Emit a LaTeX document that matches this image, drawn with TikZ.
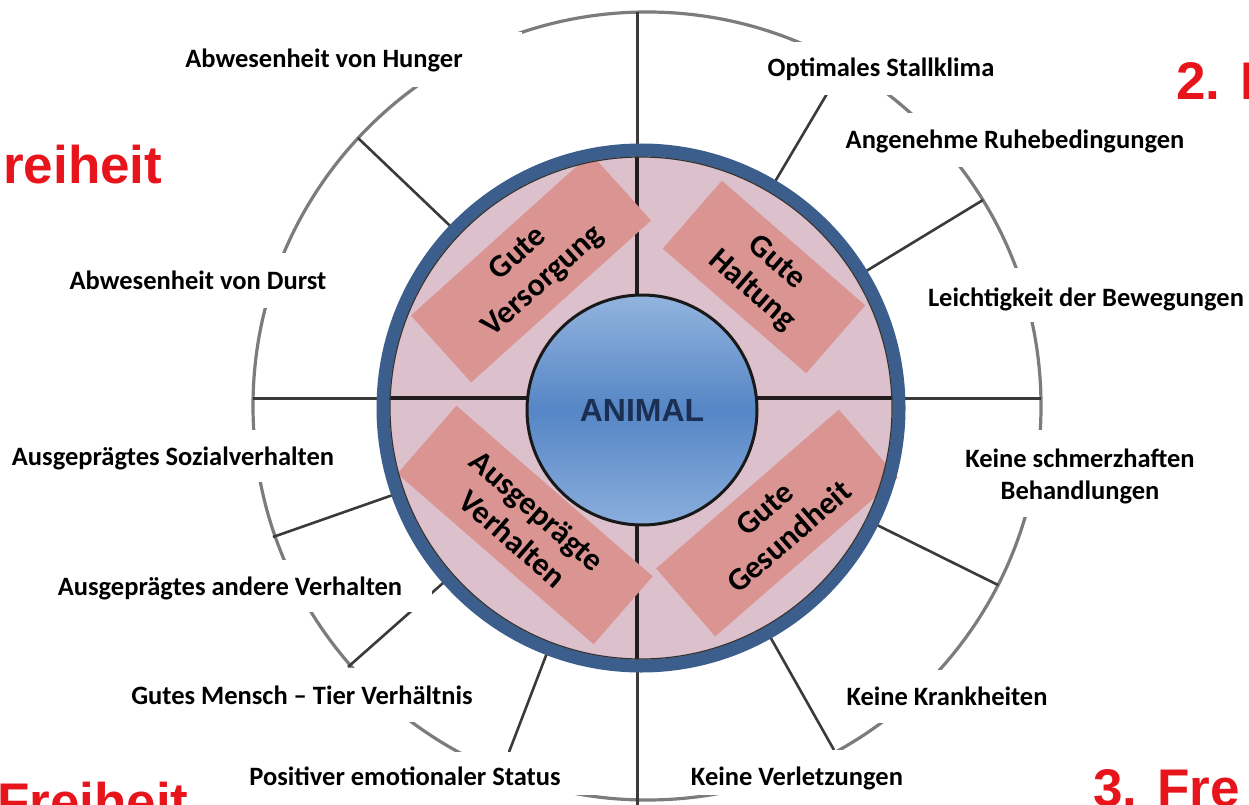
\documentclass[tikz,border=0pt]{standalone}
\usepackage{fontspec}
\setmainfont{Carlito}
\newfontfamily\arialf{Liberation Sans}
\definecolor{ringblue}{HTML}{3B5E8C}
\definecolor{ringfill}{HTML}{DCC0CC}
\definecolor{boxpink}{HTML}{DA9491}
\definecolor{titlered}{HTML}{E8141C}
\definecolor{animaltext}{HTML}{1B2F52}
\definecolor{spokegrey}{HTML}{3A3A3A}
\definecolor{circgrey}{HTML}{7C7C7C}
\definecolor{animaltop}{HTML}{92B4DE}
\definecolor{animalmid}{HTML}{5686C6}
\definecolor{animalbot}{HTML}{8AAEDC}
\begin{document}
\begin{tikzpicture}[x=1pt,y=-1pt,
  lbl/.style={font=\fontsize{26.5}{32}\selectfont\bfseries, text=black, inner sep=0pt, align=center},
  lblbg/.style={fill=white},
  spoke/.style={draw=spokegrey, line width=2.6pt},
  outerring/.style={draw=circgrey, line width=3.2pt},
  crossline/.style={draw=black!85!ringfill, line width=3.5pt},
  pinkbox/.style={fill=boxpink, minimum height=90pt, inner sep=0pt, align=center,
    font=\fontsize{32}{37}\selectfont\bfseries},
  titletext/.style={text=titlered, inner sep=0pt, anchor=base west,
    font=\arialf\bfseries\fontsize{53}{60}\selectfont}]
\path[use as bounding box] (0,0) rectangle (1249,805);
\clip (0,0) rectangle (1249,805);
\fill[white] (0,0) rectangle (1249,805);

\coordinate (C) at (641,408);
\coordinate (O) at (647,406);

% outer circle and spokes
\draw[outerring] (O) circle[radius=394];
\coordinate (vt) at (637,12);
\coordinate (vb) at (637,805);
\coordinate (hl) at (253,398);
\coordinate (hr) at (1041,398);
\draw[spoke, line width=3pt] (vt) -- (vb);
\draw[spoke, line width=3pt] (hl) -- (hr);
\foreach \px/\py in {358/138, 844/65, 983/200, 998/585, 834/750, 273/537, 348/667, 509/752}
  \draw[spoke] (C) -- (\px,\py);

% white label backgrounds
\fill[lblbg] (165,32) rectangle (522,87);
\fill[lblbg] (668,42) rectangle (1000,95);
\fill[lblbg] (835,113) rectangle (1200,167);
\fill[lblbg] (30,253) rectangle (367,308);
\fill[lblbg] (915,268) rectangle (1249,322);
\fill[lblbg] (0,430) rectangle (363,482);
\fill[lblbg] (930,430) rectangle (1233,517);
\fill[lblbg] (40,560) rectangle (432,612);
\fill[lblbg] (105,668) rectangle (513,722);
\fill[lblbg] (832,670) rectangle (1060,723);
\fill[lblbg] (240,752) rectangle (632,795);
\fill[lblbg] (660,750) rectangle (930,795);

% labels
\node[lbl, anchor=base] (l1) at (324,68) {Abwesenheit von Hunger};
\node[lbl, anchor=base] (l2) at (881,77) {Optimales Stallklima};
\node[lbl, anchor=base] (l3) at (1015,149) {Angenehme Ruhebedingungen};
\node[lbl, anchor=base] (l4) at (198,289) {Abwesenheit von Durst};
\node[lbl, anchor=base] (l5) at (1086,306) {Leichtigkeit der Bewegungen};
\node[lbl, anchor=base] (l6) at (173,465) {Ausgeprägtes Sozialverhalten};
\node[lbl] (l7) at (1080,476) {Keine schmerzhaften\\Behandlungen};
\node[lbl, anchor=base] (l8) at (230,595) {Ausgeprägtes andere Verhalten};
\node[lbl, anchor=base] (l9) at (302,704) {Gutes Mensch -- Tier Verhältnis};
\node[lbl, anchor=base] (l10) at (947,705) {Keine Krankheiten};
\node[lbl, anchor=base] (l11) at (405,785) {Positiver emotionaler Status};
\node[lbl, anchor=base] (l12) at (797,785) {Keine Verletzungen};

% red title fragments
\node[titletext] (t1) at (3,183) {reiheit};
\node[titletext] (t2) at (1176,100) {2. F};
\node[titletext] (t3) at (1093,806) {3. Fre};
\node[titletext] (t4) at (-3,820) {Freiheit};

% inner ring
\fill[ringfill] (C) circle[radius=252];
\draw[crossline] (637,157) -- (637,659);
\draw[crossline] (389,398) -- (893,398);

\node[pinkbox, minimum width=242pt, rotate=42] (gv) at (531,268) {Gute\\Versorgung};
\node[pinkbox, minimum width=190pt, rotate=-41] (gh) at (764,277) {Gute\\Haltung};
\node[pinkbox, minimum width=260pt, rotate=-41] (av) at (525,525) {Ausgeprägte\\Verhalten};
\node[pinkbox, minimum width=242pt, rotate=41] (gg) at (777,523) {Gute\\Gesundheit};

\draw[ringblue, line width=13pt] (C) circle[radius=258];
\draw[black!80, line width=1.2pt] (C) circle[radius=251];

\node[circle, minimum size=230pt, inner sep=0pt, draw=black!90, line width=3pt,
  top color=animaltop, bottom color=animalbot, middle color=animalmid,
  text=animaltext, font=\arialf\bfseries\fontsize{32}{38}\selectfont] (animal) at (642,410) {ANIMAL};
\end{tikzpicture}
\end{document}
